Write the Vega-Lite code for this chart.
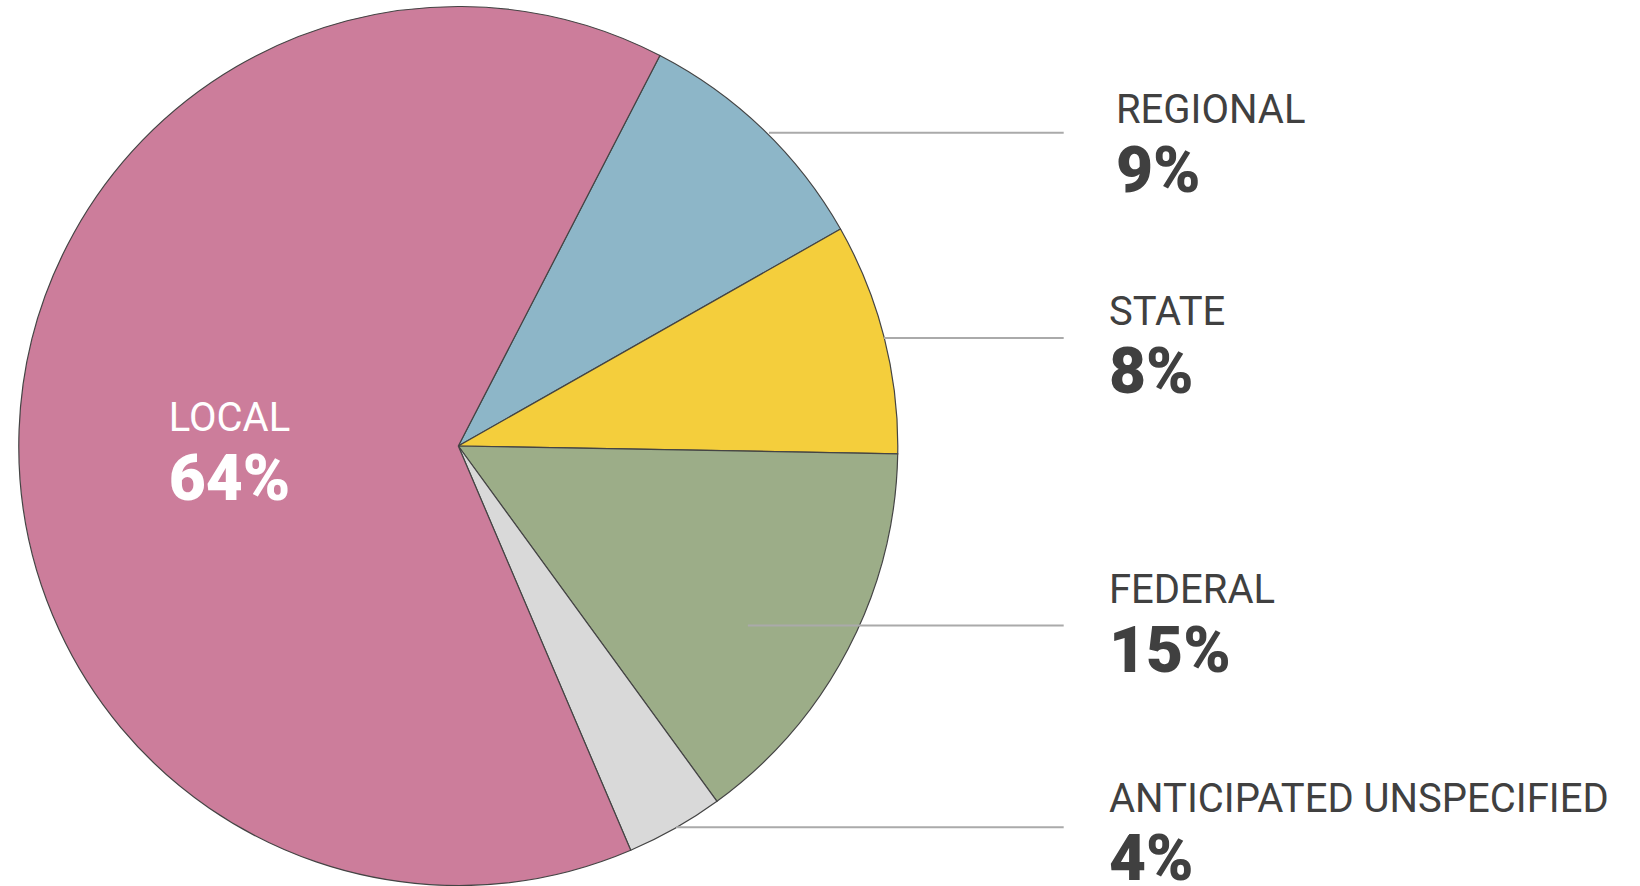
{
  "$schema": "https://vega.github.io/schema/vega-lite/v6.json",
  "width": 1640,
  "height": 886,
  "autosize": {"type": "none"},
  "padding": 0,
  "background": "white",
  "config": {"view": {"stroke": null}},
  "datasets": {
    "slices": [
      {"name": "REGIONAL", "value": 9.2, "order": 1},
      {"name": "STATE", "value": 8.5, "order": 2},
      {"name": "FEDERAL", "value": 14.7, "order": 3},
      {"name": "ANTICIPATED UNSPECIFIED", "value": 3.6, "order": 4},
      {"name": "LOCAL", "value": 64.0, "order": 5}
    ],
    "leaders": [
      {"name": "REGIONAL", "u0": 0.7069, "u1": 1.3775, "v": 0.7126},
      {"name": "STATE", "u0": 0.9684, "u1": 1.3775, "v": 0.2460},
      {"name": "FEDERAL", "u0": 0.6589, "u1": 1.3775, "v": -0.4084},
      {"name": "ANTICIPATED UNSPECIFIED", "u0": 0.4953, "u1": 1.3775, "v": -0.8676}
    ],
    "labels": [
      {"name": "REGIONAL", "pct": "9%", "u": 1.4963, "v": 0.7342, "vp": 0.5786},
      {"name": "STATE", "pct": "8%", "u": 1.4806, "v": 0.2753, "vp": 0.1206},
      {"name": "FEDERAL", "pct": "15%", "u": 1.4806, "v": -0.3572, "vp": -0.5142},
      {"name": "ANTICIPATED UNSPECIFIED", "pct": "4%", "u": 1.4806, "v": -0.8321, "vp": -0.9875}
    ],
    "inner": [
      {"name": "LOCAL", "pct": "64%", "u": -0.5206, "v": 0.0341, "vp": -0.1229}
    ]
  },
  "layer": [
    {
      "data": {"name": "slices"},
      "mark": {"type": "arc", "outerRadius": 439.5, "stroke": "#444444", "strokeWidth": 1.2},
      "encoding": {
        "x": {"datum": 0, "type": "quantitative", "scale": {"domain": [-1.0428, 2.6888], "nice": false, "zero": false}, "axis": null},
        "y": {"datum": 0, "type": "quantitative", "scale": {"domain": [-1.0011, 1.0148], "nice": false, "zero": false}, "axis": null},
        "theta": {"field": "value", "type": "quantitative", "stack": true, "scale": {"range": [0.4765, 6.7597]}},
        "order": {"field": "order", "type": "quantitative", "sort": "ascending"},
        "color": {
          "field": "name", "type": "nominal", "legend": null,
          "scale": {
            "domain": ["REGIONAL", "STATE", "FEDERAL", "ANTICIPATED UNSPECIFIED", "LOCAL"],
            "range": ["#8db6c8", "#f4ce3c", "#9cad88", "#d9d9d9", "#cc7d9b"]
          }
        }
      }
    },
    {
      "data": {"name": "leaders"},
      "mark": {"type": "rule", "stroke": "#aaaaaa", "strokeWidth": 2},
      "encoding": {
        "x": {"field": "u0", "type": "quantitative"},
        "x2": {"field": "u1"},
        "y": {"field": "v", "type": "quantitative"}
      }
    },
    {
      "data": {"name": "labels"},
      "mark": {"type": "text", "align": "left", "baseline": "alphabetic", "font": "Roboto", "fontSize": 40, "fontWeight": 400, "color": "#404040"},
      "encoding": {
        "x": {"field": "u", "type": "quantitative"},
        "y": {"field": "v", "type": "quantitative"},
        "text": {"field": "name"}
      }
    },
    {
      "data": {"name": "labels"},
      "mark": {"type": "text", "align": "left", "baseline": "alphabetic", "font": "Roboto", "fontSize": 64, "fontWeight": 900, "color": "#404040"},
      "encoding": {
        "x": {"field": "u", "type": "quantitative"},
        "y": {"field": "vp", "type": "quantitative"},
        "text": {"field": "pct"}
      }
    },
    {
      "data": {"name": "inner"},
      "mark": {"type": "text", "align": "center", "baseline": "alphabetic", "font": "Roboto", "fontSize": 40, "fontWeight": 400, "color": "#ffffff"},
      "encoding": {
        "x": {"field": "u", "type": "quantitative"},
        "y": {"field": "v", "type": "quantitative"},
        "text": {"field": "name"}
      }
    },
    {
      "data": {"name": "inner"},
      "mark": {"type": "text", "align": "center", "baseline": "alphabetic", "font": "Roboto", "fontSize": 64, "fontWeight": 900, "color": "#ffffff"},
      "encoding": {
        "x": {"field": "u", "type": "quantitative"},
        "y": {"field": "vp", "type": "quantitative"},
        "text": {"field": "pct"}
      }
    }
  ]
}
